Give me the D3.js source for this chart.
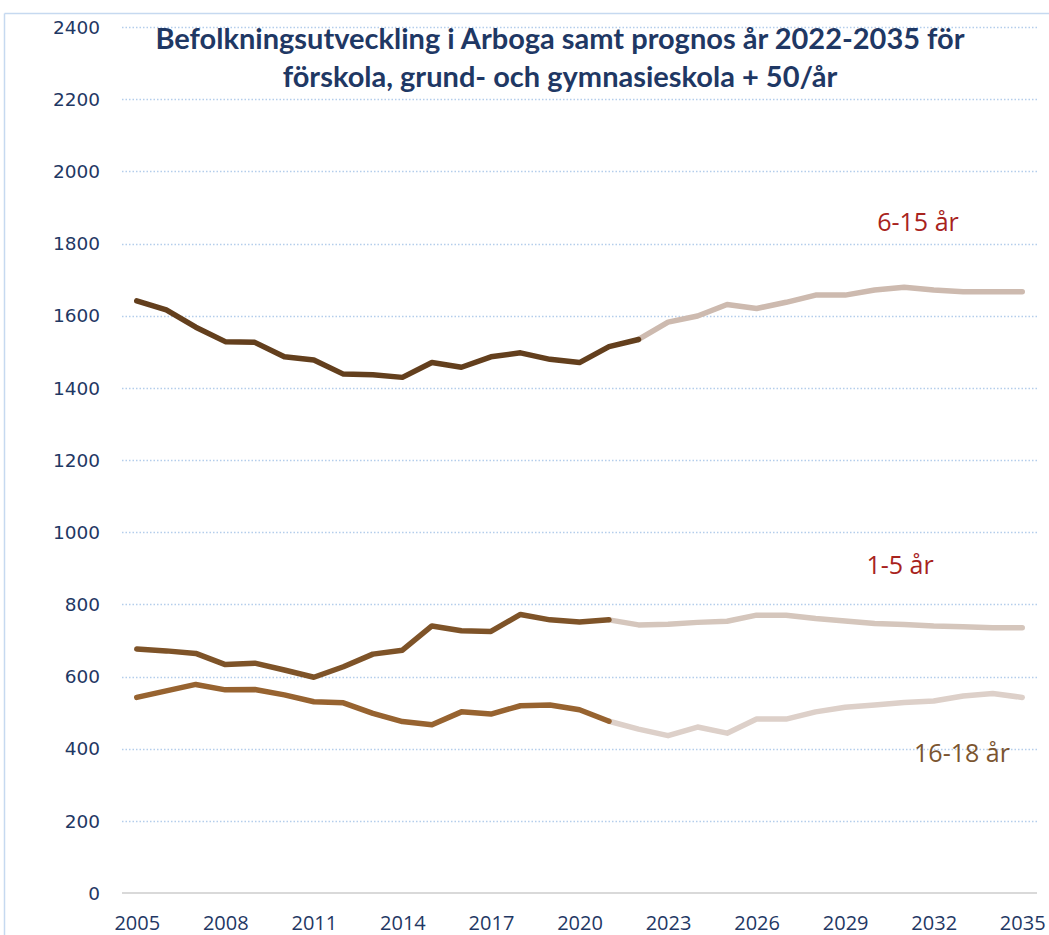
<!DOCTYPE html>
<html><head><meta charset="utf-8">
<script src="https://cdn.jsdelivr.net/npm/d3@7"></script>
<style>
html,body{margin:0;padding:0;background:#fff;}
svg{display:block;}
</style></head>
<body>
<svg id="chart" width="1049" height="935"></svg>
<script>
const years = d3.range(2005, 2036);
const titleLines = ["Befolkningsutveckling i Arboga samt prognos år 2022-2035 för", "förskola, grund- och gymnasieskola + 50/år"];
const yTicks = [0,200,400,600,800,1000,1200,1400,1600,1800,2000,2200,2400];
const xTickYears = [2005,2008,2011,2014,2017,2020,2023,2026,2029,2032,2035];

// 6-15 år
const age6_15 = [1641,1616,1568,1528,1526,1486,1477,1438,1436,1429,1470,1457,1486,1497,1479,1470,1514,1534,
                 1582,1599,1631,1620,1637,1657,1657,1671,1679,1671,1666,1666,1666];
// 1-5 år
const age1_5 = [676,671,664,633,637,618,598,627,662,673,740,727,725,772,757,751,757,
                743,745,750,753,770,770,761,754,747,744,740,738,735,735];
// 16-18 år
const age16_18 = [542,560,578,563,564,549,530,527,498,475,466,502,496,519,521,508,476,
                  454,436,460,443,482,482,502,515,521,528,532,546,553,542];

const seriesDefs = [
  {values:age6_15, histEnd:2022, hist:"#633F1D", fc:"#CDBAAF", label:"6-15 år", lx:918, ly:231, lc:"#A8231D"},
  {values:age1_5, histEnd:2021, hist:"#7E5328", fc:"#D5C6BC", label:"1-5 år", lx:900, ly:574, lc:"#A8231D"},
  {values:age16_18, histEnd:2021, hist:"#976330", fc:"#DDD0C9", label:"16-18 år", lx:962, ly:762, lc:"#7B5530"}
];

const svg = d3.select("#chart");
const pLeft = 122, pRight = 1037, pTop = 27, pBottom = 893;

const x = d3.scalePoint().domain(years).range([pLeft, pRight]).padding(0.5);
const y = d3.scaleLinear().domain([0, 2400]).range([pBottom, pTop]);

// outer frame
svg.append("line").attr("x1",4.5).attr("x2",1049).attr("y1",13.5).attr("y2",13.5).attr("stroke","#C6D9F0").attr("stroke-width",1.5);
svg.append("line").attr("x1",4.5).attr("x2",4.5).attr("y1",13.5).attr("y2",935).attr("stroke","#C6D9F0").attr("stroke-width",1.5);

// gridlines
svg.append("g").selectAll("line").data(yTicks.filter(d=>d>0)).join("line")
  .attr("x1",pLeft).attr("x2",pRight)
  .attr("y1",d=>Math.round(y(d))+0.5).attr("y2",d=>Math.round(y(d))+0.5)
  .attr("stroke","#B4CDEB").attr("stroke-width",1.5).attr("stroke-dasharray","1.5,2");

// baseline
svg.append("line").attr("x1",pLeft).attr("x2",pRight).attr("y1",y(0)).attr("y2",y(0))
  .attr("stroke","#D9D9D9").attr("stroke-width",2);

// y axis
const yAxis = d3.axisLeft(y).tickValues(yTicks).tickFormat(d3.format("d")).tickSize(0).tickPadding(0);
const gy = svg.append("g").attr("transform",`translate(100,0)`).call(yAxis);
gy.select(".domain").remove();
gy.selectAll("text").attr("font-family","DejaVu Sans").attr("font-size",18.5).attr("fill","#1F3864").attr("dy","0.34em");

// x axis
const xAxis = d3.axisBottom(x).tickValues(xTickYears).tickFormat(d3.format("d")).tickSize(0).tickPadding(0);
const gx = svg.append("g").attr("transform",`translate(0,930)`).call(xAxis);
gx.select(".domain").remove();
gx.selectAll("text").attr("font-family","Open Sans").attr("font-size",20).attr("fill","#1F3864").attr("dy","0");

// lines
const line = d3.line().x(d=>x(d.year)).y(d=>y(d.v));
seriesDefs.forEach(s=>{
  const pts = years.map((yr,i)=>({year:yr, v:s.values[i]}));
  const hist = pts.filter(p=>p.year<=s.histEnd);
  const fc = pts.filter(p=>p.year>=s.histEnd);
  svg.append("path").datum(fc).attr("d",line).attr("fill","none").attr("stroke",s.fc)
    .attr("stroke-width",5.5).attr("stroke-linecap","round").attr("stroke-linejoin","round");
  svg.append("path").datum(hist).attr("d",line).attr("fill","none").attr("stroke",s.hist)
    .attr("stroke-width",5.5).attr("stroke-linecap","round").attr("stroke-linejoin","round");
  svg.append("text").attr("x",s.lx).attr("y",s.ly).attr("text-anchor","middle")
    .attr("font-family","Open Sans").attr("font-size",25).attr("fill",s.lc).text(s.label);
});

// title
svg.append("g").selectAll("text").data(titleLines).join("text")
  .attr("x",560).attr("y",(d,i)=>49+i*38).attr("text-anchor","middle")
  .attr("font-family","Lato").attr("font-weight","bold").attr("font-size",29).attr("fill","#1F3864")
  .text(d=>d);
</script>
</body></html>
